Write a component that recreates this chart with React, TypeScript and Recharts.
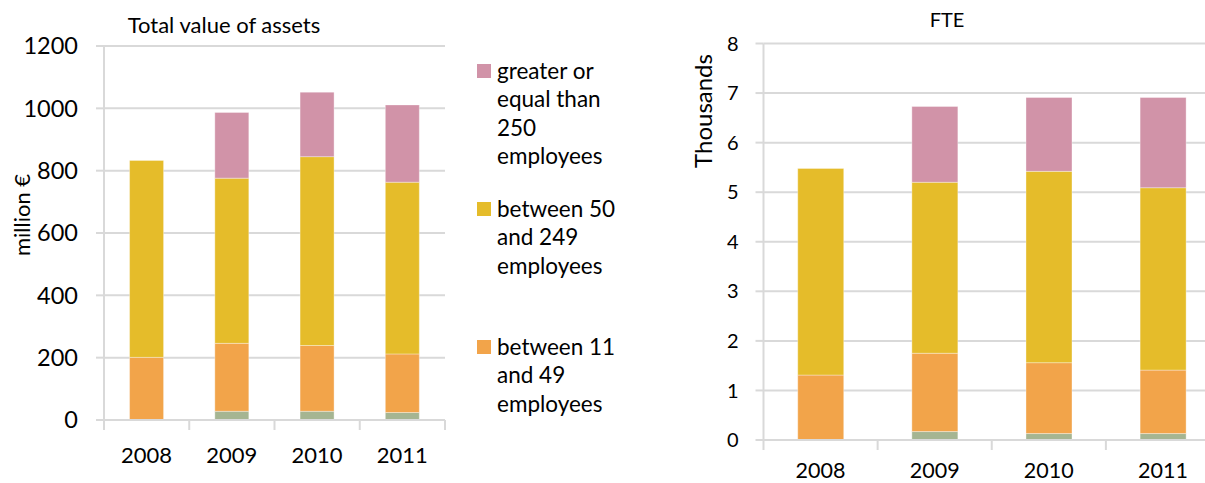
import React from 'react';
import { BarChart, Bar, XAxis, YAxis, CartesianGrid } from 'recharts';

const years = ['2008', '2009', '2010', '2011'];

// Total value of assets (million €)
const assetsMicro = [0, 28, 28, 24];
const assetsSmall = [201, 218, 211, 188];
const assetsMedium = [632, 530, 606, 551];
const assetsLarge = [0, 211, 207, 248];
const assetsTicks = [0, 200, 400, 600, 800, 1000, 1200];

// FTE (thousands)
const fteMicro = [0, 0.17, 0.13, 0.13];
const fteSmall = [1.31, 1.58, 1.43, 1.28];
const fteMedium = [4.17, 3.45, 3.86, 3.68];
const fteLarge = [0, 1.53, 1.49, 1.82];
const fteTicks = [0, 1, 2, 3, 4, 5, 6, 7, 8];

const legendLabels = [
  ['greater or', 'equal than', '250', 'employees'],
  ['between 50', 'and 249', 'employees'],
  ['between 11', 'and 49', 'employees'],
];

const COLORS = {
  micro: '#A5B592',
  small: '#F2A44A',
  medium: '#E5BC2A',
  large: '#D193A8',
};
const legendColors = [COLORS.large, COLORS.medium, COLORS.small];
const GRID = '#D9D9D9';
const FONT = 'Lato, "Open Sans", sans-serif';

const assetsData = years.map((y, i) => ({
  year: y,
  micro: assetsMicro[i],
  small: assetsSmall[i],
  medium: assetsMedium[i],
  large: assetsLarge[i],
}));

const fteData = years.map((y, i) => ({
  year: y,
  micro: fteMicro[i],
  small: fteSmall[i],
  medium: fteMedium[i],
  large: fteLarge[i],
}));

function XTick(props: any) {
  const { x, y, payload, index, visibleTicksCount, band, fontSize, baseline } = props;
  const half = payload && payload.offset ? payload.offset : band / 2;
  const last = index === (visibleTicksCount ?? years.length) - 1;
  return (
    <g>
      <line x1={x - half} x2={x - half} y1={y} y2={y + 10} stroke={GRID} strokeWidth={2} />
      {last && <line x1={x + half} x2={x + half} y1={y} y2={y + 10} stroke={GRID} strokeWidth={2} />}
      <text x={x} y={y + baseline} textAnchor="middle" fontSize={fontSize} fill="#000" fontFamily={FONT}>
        {payload.value}
      </text>
    </g>
  );
}

function Bars() {
  const common = { stackId: 's', isAnimationActive: false, stroke: 'rgba(255,255,255,0.35)', strokeWidth: 1 } as any;
  return [
    <Bar key="micro" dataKey="micro" name="micro" fill={COLORS.micro} {...common} />,
    <Bar key="small" dataKey="small" name="between 11 and 49 employees" fill={COLORS.small} {...common} />,
    <Bar key="medium" dataKey="medium" name="between 50 and 249 employees" fill={COLORS.medium} {...common} />,
    <Bar key="large" dataKey="large" name="greater or equal than 250 employees" fill={COLORS.large} {...common} />,
  ];
}

export default function App() {
  const leftW = 460;
  const leftPlotW = leftW - 104 - 15;
  const rightW = 540;
  const rightPlotW = rightW - 83.5;
  return (
    <div
      style={{
        position: 'absolute',
        left: 0,
        top: 0,
        width: 1205,
        height: 483,
        overflow: 'hidden',
        background: '#fff',
        fontFamily: FONT,
        color: '#000',
      }}
    >
      {/* Left chart */}
      <div style={{ position: 'absolute', left: 0, top: 0 }}>
        <BarChart
          width={leftW}
          height={483}
          data={assetsData}
          margin={{ top: 46, right: 15, bottom: 0, left: 0 }}
          barCategoryGap="30%"
        >
          <CartesianGrid vertical={false} stroke={GRID} strokeWidth={2} />
          <XAxis
            dataKey="year"
            height={63}
            axisLine={{ stroke: GRID, strokeWidth: 2 }}
            tickLine={false}
            tickSize={0}
            tickMargin={0}
            interval={0}
            tick={(p: any) => <XTick {...p} band={leftPlotW / years.length} fontSize={22} baseline={43} />}
          />
          <YAxis
            width={104}
            domain={[0, 1200]}
            ticks={assetsTicks}
            interval={0}
            axisLine={{ stroke: GRID, strokeWidth: 2 }}
            tickLine={{ stroke: GRID, strokeWidth: 2 }}
            tickSize={8}
            tickMargin={18}
            tick={{ fontSize: 23.5, fill: '#000', fontFamily: FONT }}
          />
          {Bars()}
        </BarChart>
      </div>

      {/* Right chart */}
      <div style={{ position: 'absolute', left: 680, top: 0 }}>
        <BarChart
          width={rightW}
          height={483}
          data={fteData}
          margin={{ top: 43.5, right: 0, bottom: 0, left: 0 }}
          barCategoryGap="30%"
        >
          <CartesianGrid vertical={false} stroke={GRID} strokeWidth={2} />
          <XAxis
            dataKey="year"
            height={43}
            axisLine={{ stroke: GRID, strokeWidth: 2 }}
            tickLine={false}
            tickSize={0}
            tickMargin={0}
            interval={0}
            tick={(p: any) => <XTick {...p} band={rightPlotW / years.length} fontSize={21.5} baseline={38} />}
          />
          <YAxis
            width={83.5}
            domain={[0, 8]}
            ticks={fteTicks}
            interval={0}
            axisLine={{ stroke: GRID, strokeWidth: 2 }}
            tickLine={{ stroke: GRID, strokeWidth: 2 }}
            tickSize={8}
            tickMargin={17}
            tick={{ fontSize: 20, fill: '#000', fontFamily: FONT }}
          />
          {Bars()}
        </BarChart>
      </div>

      {/* Titles */}
      <div
        style={{
          position: 'absolute',
          left: 224,
          top: 13.5,
          transform: 'translateX(-50%)',
          fontSize: 22,
          lineHeight: '22px',
          whiteSpace: 'nowrap',
        }}
      >
        Total value of assets
      </div>
      <div
        style={{
          position: 'absolute',
          left: 947,
          top: 8.5,
          transform: 'translateX(-50%)',
          fontSize: 20,
          lineHeight: '20px',
          whiteSpace: 'nowrap',
        }}
      >
        FTE
      </div>

      {/* Axis titles */}
      <div
        style={{
          position: 'absolute',
          left: 22,
          top: 215,
          transform: 'translate(-50%, -50%) rotate(-90deg)',
          fontSize: 22,
          lineHeight: '22px',
          whiteSpace: 'nowrap',
        }}
      >
        million €
      </div>
      <div
        style={{
          position: 'absolute',
          left: 703,
          top: 111,
          transform: 'translate(-50%, -50%) rotate(-90deg)',
          fontSize: 24,
          lineHeight: '24px',
          whiteSpace: 'nowrap',
        }}
      >
        Thousands
      </div>

      {/* Legend */}
      {legendLabels.map((lines, i) => {
        const cy = [71, 209, 347][i];
        return (
          <div key={i}>
            <div
              style={{
                position: 'absolute',
                left: 477,
                top: cy - 7,
                width: 14,
                height: 14,
                background: legendColors[i],
              }}
            />
            <div
              style={{
                position: 'absolute',
                left: 497,
                top: cy - 14.25,
                fontSize: 22.5,
                lineHeight: '28.5px',
                whiteSpace: 'nowrap',
              }}
            >
              {lines.map((l, j) => (
                <div key={j}>{l}</div>
              ))}
            </div>
          </div>
        );
      })}
    </div>
  );
}
